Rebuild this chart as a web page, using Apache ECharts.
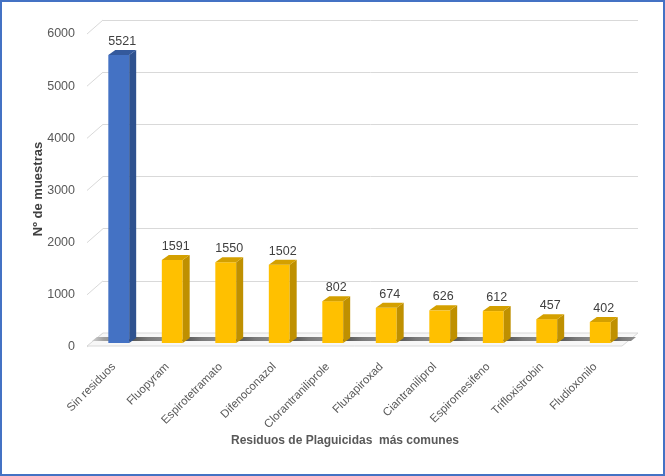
<!DOCTYPE html>
<html>
<head>
<meta charset="utf-8">
<script src="https://cdn.jsdelivr.net/npm/echarts@6/dist/echarts.min.js"></script>
<style>
  html, body { margin: 0; padding: 0; background: #fff; }
  #main { width: 665px; height: 476px; }
</style>
</head>
<body>
<div id="main"></div>
<script>
// datos
var categories = ['Sin residuos', 'Fluopyram', 'Espirotetramato', 'Difenoconazol', 'Clorantraniliprole',
  'Fluxapiroxad', 'Ciantraniliprol', 'Espiromesifeno', 'Trifloxistrobin', 'Fludioxonilo'];
var muestras = [5521, 1591, 1550, 1502, 802, 674, 626, 612, 457, 402];
var yTicks = [0, 1000, 2000, 3000, 4000, 5000, 6000];

var chart = echarts.init(document.getElementById('main'));

var FONT = 'Liberation Sans';
var DX = 7, DY = 5;       // profundidad de la barra
var BACK = [11, -10];     // pared del fondo respecto al plano de barras
var FRONT = [-5, 3];      // borde delantero del suelo

var barColors = {
  blue: { front: '#4472C4', side: '#2F528F', top: '#34599C' },
  gold: { front: '#FFC000', side: '#BF9000', top: '#D4A000' }
};

function renderBar(params, api) {
  var i = api.value(0);
  var v = api.value(1);
  var p = api.coord([i, v]);
  var b = api.coord([i, 0]);
  var band = api.size([1, 0])[0];
  var w = band * 0.39;
  var x0 = p[0] - w / 2;
  var c = i === 0 ? barColors.blue : barColors.gold;
  return {
    type: 'group',
    children: [
      { type: 'rect', shape: { x: x0, y: p[1], width: w, height: b[1] - p[1] }, style: { fill: c.front } },
      { type: 'polygon', shape: { points: [[x0 + w, p[1]], [x0 + w + DX, p[1] - DY], [x0 + w + DX, b[1] - DY], [x0 + w, b[1]]] }, style: { fill: c.side } },
      { type: 'polygon', shape: { points: [[x0, p[1]], [x0 + DX, p[1] - DY], [x0 + w + DX, p[1] - DY], [x0 + w, p[1]]] }, style: { fill: c.top } },
      { type: 'text', x: x0 + w / 2 + DX / 2, y: p[1] - DY - 2,
        style: { text: String(v), fill: '#404040', font: '12.5px "' + FONT + '"', align: 'center', verticalAlign: 'bottom' } }
    ]
  };
}

function renderFloor(params, api) {
  var band = api.size([1, 0])[0];
  var a = api.coord([0, 0]);
  var z = api.coord([categories.length - 1, 0]);
  var xl = a[0] - band / 2, xr = z[0] + band / 2, y0 = a[1];
  var children = [{
    type: 'polygon',
    shape: { points: [[xl + FRONT[0], y0 + FRONT[1]], [xr + FRONT[0], y0 + FRONT[1]], [xr + BACK[0], y0 + BACK[1]], [xl + BACK[0], y0 + BACK[1]]] },
    style: { fill: '#f7f7f7', stroke: '#d9d9d9', lineWidth: 1 }
  }];
  // sombras sobre el suelo
  var w = band * 0.39;
  for (var i = -1; i < categories.length; i++) {
    var sx = i < 0 ? xl + 2 : api.coord([i, 0])[0] + w / 2;
    var ex = i + 1 < categories.length ? api.coord([i + 1, 0])[0] - w / 2 + 4 : xr + 6;
    children.push({
      type: 'polygon',
      shape: { points: [[sx - 2, y0 - 2], [ex - 2, y0 - 2], [ex + 3, y0 - 6], [sx + 3, y0 - 6]] },
      style: {
        fill: new echarts.graphic.LinearGradient(0, 0, 1, 0, [
          { offset: 0, color: i < 0 ? '#d0d0d0' : '#4d4d4d' },
          { offset: 0.5, color: i < 0 ? '#a0a0a0' : '#7a7a7a' },
          { offset: 1, color: '#8f8f8f' }
        ])
      }
    });
  }
  return { type: 'group', children: children };
}

function renderTick(params, api) {
  var p = api.coord([0, api.value(0)]);
  var band = api.size([1, 0])[0];
  var x = p[0] - band / 2;
  return {
    type: 'line',
    shape: { x1: x, y1: p[1], x2: x + 16, y2: p[1] - 14 },
    style: { stroke: '#d9d9d9', lineWidth: 1 }
  };
}

var option = {
  backgroundColor: '#ffffff',
  animation: false,
  grid: [
    { left: 92, top: 30, width: 535, height: 313 },   // plano de las barras
    { left: 103, top: 20, width: 535, height: 313 },  // pared del fondo
    { left: 87, top: 34, width: 535, height: 313 }    // plano delantero
  ],
  xAxis: [
    {
      gridIndex: 0, type: 'category', data: categories,
      axisLine: { show: false }, axisTick: { show: false },
      axisLabel: { rotate: 45, margin: 17, padding: [0, 7, 0, 0], color: '#595959', fontSize: 11.5, fontFamily: FONT, interval: 0 }
    },
    { gridIndex: 1, type: 'category', data: categories, show: false },
    { gridIndex: 2, type: 'category', data: categories, show: false }
  ],
  yAxis: [
    { gridIndex: 0, type: 'value', min: 0, max: 6000, interval: 1000, show: false },
    {
      gridIndex: 1, type: 'value', min: 0, max: 6000, interval: 1000,
      axisLine: { show: false }, axisTick: { show: false }, axisLabel: { show: false },
      splitLine: { lineStyle: { color: '#d9d9d9', width: 1 } }
    },
    {
      gridIndex: 2, type: 'value', min: 0, max: 6000, interval: 1000,
      axisLine: { show: false }, axisTick: { show: false }, splitLine: { show: false },
      axisLabel: { margin: 12, color: '#595959', fontSize: 12.5, fontFamily: FONT,
        formatter: function (v) { return String(v); } }
    }
  ],
  series: [
    {
      type: 'custom', xAxisIndex: 2, yAxisIndex: 2, silent: true,
      data: yTicks.map(function (t) { return [t]; }),
      renderItem: renderTick, z: 1
    },
    {
      type: 'custom', xAxisIndex: 0, yAxisIndex: 0, silent: true,
      data: [[0]], renderItem: renderFloor, z: 2
    },
    {
      type: 'custom', xAxisIndex: 0, yAxisIndex: 0,
      data: muestras.map(function (v, i) { return [i, v]; }),
      renderItem: renderBar, z: 3
    }
  ],
  graphic: [
    {
      type: 'text', x: 345, y: 441,
      style: { text: 'Residuos de Plaguicidas  más comunes', fill: '#595959', font: 'bold 12px "' + FONT + '"', align: 'center', verticalAlign: 'middle' }
    },
    {
      type: 'text', x: 38, y: 189, rotation: Math.PI / 2,
      style: { text: 'Nº de muestras', fill: '#404040', font: 'bold 13px "' + FONT + '"', align: 'center', verticalAlign: 'middle' }
    },
    {
      type: 'rect', shape: { x: 1, y: 1, width: 663, height: 474 },
      style: { fill: 'none', stroke: '#4472C4', lineWidth: 2 }, z: 100
    }
  ]
};

chart.setOption(option);
</script>
</body>
</html>
